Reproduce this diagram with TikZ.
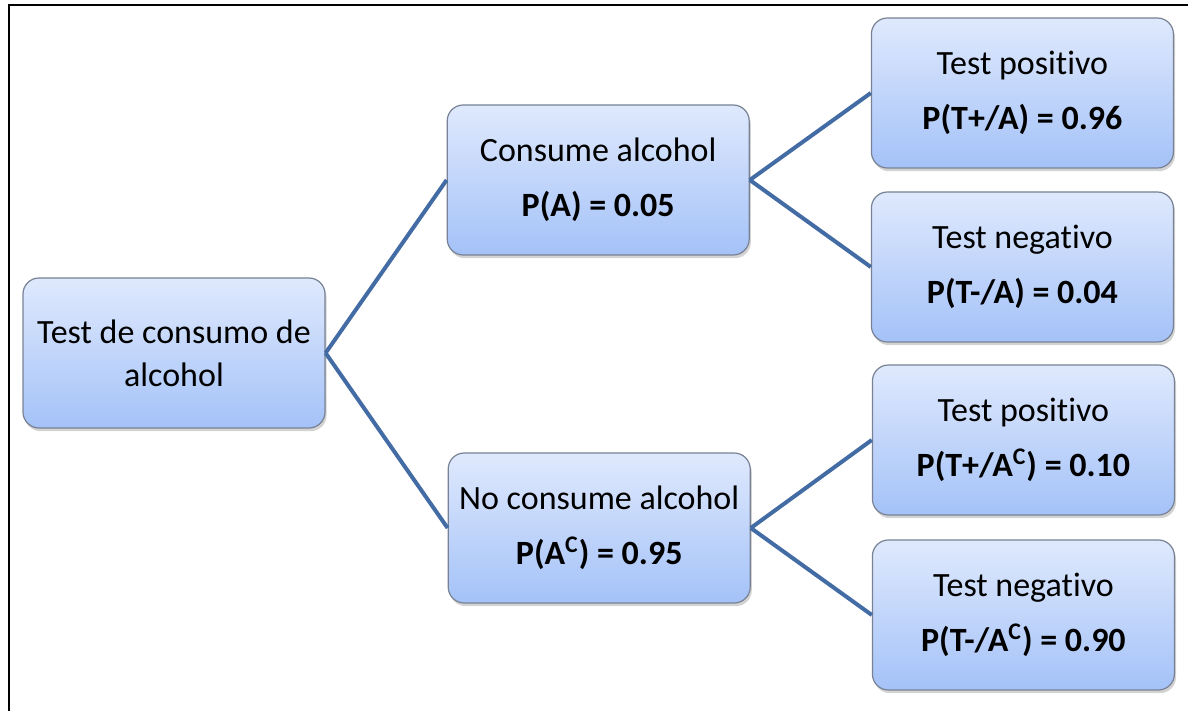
\documentclass[tikz,border=0pt]{standalone}
\usepackage{fontspec}
\setmainfont{Carlito}[RawFeature={-liga;-clig;-dlig;-calt}]
\usetikzlibrary{positioning,shadows}

\definecolor{boxtop}{RGB}{223,233,253}
\definecolor{boxbottom}{RGB}{164,194,248}
\definecolor{boxedge}{RGB}{120,130,148}
\definecolor{branchblue}{RGB}{68,108,164}

\begin{document}
\begin{tikzpicture}[
    x=0.5pt, y=-0.5pt,
    box/.style={rectangle, rounded corners=8pt, draw=boxedge, line width=0.6pt,
        top color=boxtop, bottom color=boxbottom,
        minimum width=151pt, minimum height=75pt, inner sep=2pt, align=center,
        font=\fontsize{17}{21.5}\selectfont,
        drop shadow={shadow xshift=0.8pt, shadow yshift=-1.6pt, opacity=0.35}},
    branch/.style={draw=branchblue, line width=2pt}
]
\useasboundingbox (0,0) rectangle (1188,711);
\draw[line width=1.4pt] (9,711) -- (9,5) -- (1188,5);

\node[box] (root) at (174,353) {Test de consumo de\\alcohol};
\node[box] (alc) [right=60.5pt of root, yshift=86.5pt] {Consume alcohol\\[6pt]\textbf{P(A) = 0.05}};
\node[box] (noalc) [right=61pt of root, yshift=-87.5pt] {No consume alcohol\\[6pt]\textbf{P(A\textsuperscript{C}) = 0.95}};

\node[box] (alcpos) [right=60.5pt of alc, yshift=43.5pt] {Test positivo\\[6pt]\textbf{P(T+/A) = 0.96}};
\node[box] (alcneg) [right=60.5pt of alc, yshift=-43.5pt] {Test negativo\\[6pt]\textbf{P(T-/A) = 0.04}};
\node[box] (noalcpos) [right=60.5pt of noalc, yshift=44pt] {Test positivo\\[6pt]\textbf{P(T+/A\textsuperscript{C}) = 0.10}};
\node[box] (noalcneg) [right=60.5pt of noalc, yshift=-43.5pt] {Test negativo\\[6pt]\textbf{P(T-/A\textsuperscript{C}) = 0.90}};

\draw[branch] (root.east) -- (alc.west);
\draw[branch] (root.east) -- (noalc.west);
\draw[branch] (alc.east) -- (alcpos.west);
\draw[branch] (alc.east) -- (alcneg.west);
\draw[branch] (noalc.east) -- (noalcpos.west);
\draw[branch] (noalc.east) -- (noalcneg.west);

\end{tikzpicture}
\end{document}
